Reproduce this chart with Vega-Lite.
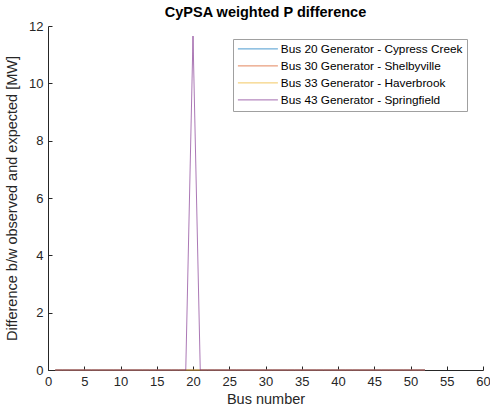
{
  "$schema": "https://vega.github.io/schema/vega-lite/v6.json",
  "autosize": "none",
  "width": 435,
  "height": 344,
  "padding": {"left": 48, "top": 26, "right": 7, "bottom": 44},
  "background": "white",
  "title": {"text": "CyPSA weighted P difference", "font": "Liberation Sans", "fontSize": 14.5, "fontWeight": "bold", "color": "#000000", "offset": 0},
  "data": {
    "values": [
      {"series": "Bus 20 Generator - Cypress Creek", "bus": 1, "diff": 0}, {"series": "Bus 20 Generator - Cypress Creek", "bus": 2, "diff": 0}, {"series": "Bus 20 Generator - Cypress Creek", "bus": 3, "diff": 0}, {"series": "Bus 20 Generator - Cypress Creek", "bus": 4, "diff": 0}, {"series": "Bus 20 Generator - Cypress Creek", "bus": 5, "diff": 0}, {"series": "Bus 20 Generator - Cypress Creek", "bus": 6, "diff": 0}, {"series": "Bus 20 Generator - Cypress Creek", "bus": 7, "diff": 0}, {"series": "Bus 20 Generator - Cypress Creek", "bus": 8, "diff": 0}, {"series": "Bus 20 Generator - Cypress Creek", "bus": 9, "diff": 0}, {"series": "Bus 20 Generator - Cypress Creek", "bus": 10, "diff": 0},
      {"series": "Bus 20 Generator - Cypress Creek", "bus": 11, "diff": 0}, {"series": "Bus 20 Generator - Cypress Creek", "bus": 12, "diff": 0}, {"series": "Bus 20 Generator - Cypress Creek", "bus": 13, "diff": 0}, {"series": "Bus 20 Generator - Cypress Creek", "bus": 14, "diff": 0}, {"series": "Bus 20 Generator - Cypress Creek", "bus": 15, "diff": 0}, {"series": "Bus 20 Generator - Cypress Creek", "bus": 16, "diff": 0}, {"series": "Bus 20 Generator - Cypress Creek", "bus": 17, "diff": 0}, {"series": "Bus 20 Generator - Cypress Creek", "bus": 18, "diff": 0}, {"series": "Bus 20 Generator - Cypress Creek", "bus": 19, "diff": 0}, {"series": "Bus 20 Generator - Cypress Creek", "bus": 20, "diff": 0},
      {"series": "Bus 20 Generator - Cypress Creek", "bus": 21, "diff": 0}, {"series": "Bus 20 Generator - Cypress Creek", "bus": 22, "diff": 0}, {"series": "Bus 20 Generator - Cypress Creek", "bus": 23, "diff": 0}, {"series": "Bus 20 Generator - Cypress Creek", "bus": 24, "diff": 0}, {"series": "Bus 20 Generator - Cypress Creek", "bus": 25, "diff": 0}, {"series": "Bus 20 Generator - Cypress Creek", "bus": 26, "diff": 0}, {"series": "Bus 20 Generator - Cypress Creek", "bus": 27, "diff": 0}, {"series": "Bus 20 Generator - Cypress Creek", "bus": 28, "diff": 0}, {"series": "Bus 20 Generator - Cypress Creek", "bus": 29, "diff": 0}, {"series": "Bus 20 Generator - Cypress Creek", "bus": 30, "diff": 0},
      {"series": "Bus 20 Generator - Cypress Creek", "bus": 31, "diff": 0}, {"series": "Bus 20 Generator - Cypress Creek", "bus": 32, "diff": 0}, {"series": "Bus 20 Generator - Cypress Creek", "bus": 33, "diff": 0}, {"series": "Bus 20 Generator - Cypress Creek", "bus": 34, "diff": 0}, {"series": "Bus 20 Generator - Cypress Creek", "bus": 35, "diff": 0}, {"series": "Bus 20 Generator - Cypress Creek", "bus": 36, "diff": 0}, {"series": "Bus 20 Generator - Cypress Creek", "bus": 37, "diff": 0}, {"series": "Bus 20 Generator - Cypress Creek", "bus": 38, "diff": 0}, {"series": "Bus 20 Generator - Cypress Creek", "bus": 39, "diff": 0}, {"series": "Bus 20 Generator - Cypress Creek", "bus": 40, "diff": 0},
      {"series": "Bus 20 Generator - Cypress Creek", "bus": 41, "diff": 0}, {"series": "Bus 20 Generator - Cypress Creek", "bus": 42, "diff": 0}, {"series": "Bus 20 Generator - Cypress Creek", "bus": 43, "diff": 0}, {"series": "Bus 20 Generator - Cypress Creek", "bus": 44, "diff": 0}, {"series": "Bus 20 Generator - Cypress Creek", "bus": 45, "diff": 0}, {"series": "Bus 20 Generator - Cypress Creek", "bus": 46, "diff": 0}, {"series": "Bus 20 Generator - Cypress Creek", "bus": 47, "diff": 0}, {"series": "Bus 20 Generator - Cypress Creek", "bus": 48, "diff": 0}, {"series": "Bus 20 Generator - Cypress Creek", "bus": 49, "diff": 0}, {"series": "Bus 20 Generator - Cypress Creek", "bus": 50, "diff": 0},
      {"series": "Bus 20 Generator - Cypress Creek", "bus": 51, "diff": 0}, {"series": "Bus 20 Generator - Cypress Creek", "bus": 52, "diff": 0},
      {"series": "Bus 30 Generator - Shelbyville", "bus": 1, "diff": 0}, {"series": "Bus 30 Generator - Shelbyville", "bus": 2, "diff": 0}, {"series": "Bus 30 Generator - Shelbyville", "bus": 3, "diff": 0}, {"series": "Bus 30 Generator - Shelbyville", "bus": 4, "diff": 0}, {"series": "Bus 30 Generator - Shelbyville", "bus": 5, "diff": 0}, {"series": "Bus 30 Generator - Shelbyville", "bus": 6, "diff": 0}, {"series": "Bus 30 Generator - Shelbyville", "bus": 7, "diff": 0}, {"series": "Bus 30 Generator - Shelbyville", "bus": 8, "diff": 0}, {"series": "Bus 30 Generator - Shelbyville", "bus": 9, "diff": 0}, {"series": "Bus 30 Generator - Shelbyville", "bus": 10, "diff": 0},
      {"series": "Bus 30 Generator - Shelbyville", "bus": 11, "diff": 0}, {"series": "Bus 30 Generator - Shelbyville", "bus": 12, "diff": 0}, {"series": "Bus 30 Generator - Shelbyville", "bus": 13, "diff": 0}, {"series": "Bus 30 Generator - Shelbyville", "bus": 14, "diff": 0}, {"series": "Bus 30 Generator - Shelbyville", "bus": 15, "diff": 0}, {"series": "Bus 30 Generator - Shelbyville", "bus": 16, "diff": 0}, {"series": "Bus 30 Generator - Shelbyville", "bus": 17, "diff": 0}, {"series": "Bus 30 Generator - Shelbyville", "bus": 18, "diff": 0}, {"series": "Bus 30 Generator - Shelbyville", "bus": 19, "diff": 0}, {"series": "Bus 30 Generator - Shelbyville", "bus": 20, "diff": 0},
      {"series": "Bus 30 Generator - Shelbyville", "bus": 21, "diff": 0}, {"series": "Bus 30 Generator - Shelbyville", "bus": 22, "diff": 0}, {"series": "Bus 30 Generator - Shelbyville", "bus": 23, "diff": 0}, {"series": "Bus 30 Generator - Shelbyville", "bus": 24, "diff": 0}, {"series": "Bus 30 Generator - Shelbyville", "bus": 25, "diff": 0}, {"series": "Bus 30 Generator - Shelbyville", "bus": 26, "diff": 0}, {"series": "Bus 30 Generator - Shelbyville", "bus": 27, "diff": 0}, {"series": "Bus 30 Generator - Shelbyville", "bus": 28, "diff": 0}, {"series": "Bus 30 Generator - Shelbyville", "bus": 29, "diff": 0}, {"series": "Bus 30 Generator - Shelbyville", "bus": 30, "diff": 0},
      {"series": "Bus 30 Generator - Shelbyville", "bus": 31, "diff": 0}, {"series": "Bus 30 Generator - Shelbyville", "bus": 32, "diff": 0}, {"series": "Bus 30 Generator - Shelbyville", "bus": 33, "diff": 0}, {"series": "Bus 30 Generator - Shelbyville", "bus": 34, "diff": 0}, {"series": "Bus 30 Generator - Shelbyville", "bus": 35, "diff": 0}, {"series": "Bus 30 Generator - Shelbyville", "bus": 36, "diff": 0}, {"series": "Bus 30 Generator - Shelbyville", "bus": 37, "diff": 0}, {"series": "Bus 30 Generator - Shelbyville", "bus": 38, "diff": 0}, {"series": "Bus 30 Generator - Shelbyville", "bus": 39, "diff": 0}, {"series": "Bus 30 Generator - Shelbyville", "bus": 40, "diff": 0},
      {"series": "Bus 30 Generator - Shelbyville", "bus": 41, "diff": 0}, {"series": "Bus 30 Generator - Shelbyville", "bus": 42, "diff": 0}, {"series": "Bus 30 Generator - Shelbyville", "bus": 43, "diff": 0}, {"series": "Bus 30 Generator - Shelbyville", "bus": 44, "diff": 0}, {"series": "Bus 30 Generator - Shelbyville", "bus": 45, "diff": 0}, {"series": "Bus 30 Generator - Shelbyville", "bus": 46, "diff": 0}, {"series": "Bus 30 Generator - Shelbyville", "bus": 47, "diff": 0}, {"series": "Bus 30 Generator - Shelbyville", "bus": 48, "diff": 0}, {"series": "Bus 30 Generator - Shelbyville", "bus": 49, "diff": 0}, {"series": "Bus 30 Generator - Shelbyville", "bus": 50, "diff": 0},
      {"series": "Bus 30 Generator - Shelbyville", "bus": 51, "diff": 0}, {"series": "Bus 30 Generator - Shelbyville", "bus": 52, "diff": 0},
      {"series": "Bus 33 Generator - Haverbrook", "bus": 1, "diff": 0}, {"series": "Bus 33 Generator - Haverbrook", "bus": 2, "diff": 0}, {"series": "Bus 33 Generator - Haverbrook", "bus": 3, "diff": 0}, {"series": "Bus 33 Generator - Haverbrook", "bus": 4, "diff": 0}, {"series": "Bus 33 Generator - Haverbrook", "bus": 5, "diff": 0}, {"series": "Bus 33 Generator - Haverbrook", "bus": 6, "diff": 0}, {"series": "Bus 33 Generator - Haverbrook", "bus": 7, "diff": 0}, {"series": "Bus 33 Generator - Haverbrook", "bus": 8, "diff": 0}, {"series": "Bus 33 Generator - Haverbrook", "bus": 9, "diff": 0}, {"series": "Bus 33 Generator - Haverbrook", "bus": 10, "diff": 0},
      {"series": "Bus 33 Generator - Haverbrook", "bus": 11, "diff": 0}, {"series": "Bus 33 Generator - Haverbrook", "bus": 12, "diff": 0}, {"series": "Bus 33 Generator - Haverbrook", "bus": 13, "diff": 0}, {"series": "Bus 33 Generator - Haverbrook", "bus": 14, "diff": 0}, {"series": "Bus 33 Generator - Haverbrook", "bus": 15, "diff": 0}, {"series": "Bus 33 Generator - Haverbrook", "bus": 16, "diff": 0}, {"series": "Bus 33 Generator - Haverbrook", "bus": 17, "diff": 0}, {"series": "Bus 33 Generator - Haverbrook", "bus": 18, "diff": 0}, {"series": "Bus 33 Generator - Haverbrook", "bus": 19, "diff": 0}, {"series": "Bus 33 Generator - Haverbrook", "bus": 20, "diff": 0},
      {"series": "Bus 33 Generator - Haverbrook", "bus": 21, "diff": 0}, {"series": "Bus 33 Generator - Haverbrook", "bus": 22, "diff": 0}, {"series": "Bus 33 Generator - Haverbrook", "bus": 23, "diff": 0}, {"series": "Bus 33 Generator - Haverbrook", "bus": 24, "diff": 0}, {"series": "Bus 33 Generator - Haverbrook", "bus": 25, "diff": 0}, {"series": "Bus 33 Generator - Haverbrook", "bus": 26, "diff": 0}, {"series": "Bus 33 Generator - Haverbrook", "bus": 27, "diff": 0}, {"series": "Bus 33 Generator - Haverbrook", "bus": 28, "diff": 0}, {"series": "Bus 33 Generator - Haverbrook", "bus": 29, "diff": 0}, {"series": "Bus 33 Generator - Haverbrook", "bus": 30, "diff": 0},
      {"series": "Bus 33 Generator - Haverbrook", "bus": 31, "diff": 0}, {"series": "Bus 33 Generator - Haverbrook", "bus": 32, "diff": 0}, {"series": "Bus 33 Generator - Haverbrook", "bus": 33, "diff": 0}, {"series": "Bus 33 Generator - Haverbrook", "bus": 34, "diff": 0}, {"series": "Bus 33 Generator - Haverbrook", "bus": 35, "diff": 0}, {"series": "Bus 33 Generator - Haverbrook", "bus": 36, "diff": 0}, {"series": "Bus 33 Generator - Haverbrook", "bus": 37, "diff": 0}, {"series": "Bus 33 Generator - Haverbrook", "bus": 38, "diff": 0}, {"series": "Bus 33 Generator - Haverbrook", "bus": 39, "diff": 0}, {"series": "Bus 33 Generator - Haverbrook", "bus": 40, "diff": 0},
      {"series": "Bus 33 Generator - Haverbrook", "bus": 41, "diff": 0}, {"series": "Bus 33 Generator - Haverbrook", "bus": 42, "diff": 0}, {"series": "Bus 33 Generator - Haverbrook", "bus": 43, "diff": 0}, {"series": "Bus 33 Generator - Haverbrook", "bus": 44, "diff": 0}, {"series": "Bus 33 Generator - Haverbrook", "bus": 45, "diff": 0}, {"series": "Bus 33 Generator - Haverbrook", "bus": 46, "diff": 0}, {"series": "Bus 33 Generator - Haverbrook", "bus": 47, "diff": 0}, {"series": "Bus 33 Generator - Haverbrook", "bus": 48, "diff": 0}, {"series": "Bus 33 Generator - Haverbrook", "bus": 49, "diff": 0}, {"series": "Bus 33 Generator - Haverbrook", "bus": 50, "diff": 0},
      {"series": "Bus 33 Generator - Haverbrook", "bus": 51, "diff": 0}, {"series": "Bus 33 Generator - Haverbrook", "bus": 52, "diff": 0},
      {"series": "Bus 43 Generator - Springfield", "bus": 1, "diff": 0}, {"series": "Bus 43 Generator - Springfield", "bus": 2, "diff": 0}, {"series": "Bus 43 Generator - Springfield", "bus": 3, "diff": 0}, {"series": "Bus 43 Generator - Springfield", "bus": 4, "diff": 0}, {"series": "Bus 43 Generator - Springfield", "bus": 5, "diff": 0}, {"series": "Bus 43 Generator - Springfield", "bus": 6, "diff": 0}, {"series": "Bus 43 Generator - Springfield", "bus": 7, "diff": 0}, {"series": "Bus 43 Generator - Springfield", "bus": 8, "diff": 0}, {"series": "Bus 43 Generator - Springfield", "bus": 9, "diff": 0}, {"series": "Bus 43 Generator - Springfield", "bus": 10, "diff": 0},
      {"series": "Bus 43 Generator - Springfield", "bus": 11, "diff": 0}, {"series": "Bus 43 Generator - Springfield", "bus": 12, "diff": 0}, {"series": "Bus 43 Generator - Springfield", "bus": 13, "diff": 0}, {"series": "Bus 43 Generator - Springfield", "bus": 14, "diff": 0}, {"series": "Bus 43 Generator - Springfield", "bus": 15, "diff": 0}, {"series": "Bus 43 Generator - Springfield", "bus": 16, "diff": 0}, {"series": "Bus 43 Generator - Springfield", "bus": 17, "diff": 0}, {"series": "Bus 43 Generator - Springfield", "bus": 18, "diff": 0}, {"series": "Bus 43 Generator - Springfield", "bus": 19, "diff": 0}, {"series": "Bus 43 Generator - Springfield", "bus": 20, "diff": 11.65},
      {"series": "Bus 43 Generator - Springfield", "bus": 21, "diff": 0}, {"series": "Bus 43 Generator - Springfield", "bus": 22, "diff": 0}, {"series": "Bus 43 Generator - Springfield", "bus": 23, "diff": 0}, {"series": "Bus 43 Generator - Springfield", "bus": 24, "diff": 0}, {"series": "Bus 43 Generator - Springfield", "bus": 25, "diff": 0}, {"series": "Bus 43 Generator - Springfield", "bus": 26, "diff": 0}, {"series": "Bus 43 Generator - Springfield", "bus": 27, "diff": 0}, {"series": "Bus 43 Generator - Springfield", "bus": 28, "diff": 0}, {"series": "Bus 43 Generator - Springfield", "bus": 29, "diff": 0}, {"series": "Bus 43 Generator - Springfield", "bus": 30, "diff": 0},
      {"series": "Bus 43 Generator - Springfield", "bus": 31, "diff": 0}, {"series": "Bus 43 Generator - Springfield", "bus": 32, "diff": 0}, {"series": "Bus 43 Generator - Springfield", "bus": 33, "diff": 0}, {"series": "Bus 43 Generator - Springfield", "bus": 34, "diff": 0}, {"series": "Bus 43 Generator - Springfield", "bus": 35, "diff": 0}, {"series": "Bus 43 Generator - Springfield", "bus": 36, "diff": 0}, {"series": "Bus 43 Generator - Springfield", "bus": 37, "diff": 0}, {"series": "Bus 43 Generator - Springfield", "bus": 38, "diff": 0}, {"series": "Bus 43 Generator - Springfield", "bus": 39, "diff": 0}, {"series": "Bus 43 Generator - Springfield", "bus": 40, "diff": 0},
      {"series": "Bus 43 Generator - Springfield", "bus": 41, "diff": 0}, {"series": "Bus 43 Generator - Springfield", "bus": 42, "diff": 0}, {"series": "Bus 43 Generator - Springfield", "bus": 43, "diff": 0}, {"series": "Bus 43 Generator - Springfield", "bus": 44, "diff": 0}, {"series": "Bus 43 Generator - Springfield", "bus": 45, "diff": 0}, {"series": "Bus 43 Generator - Springfield", "bus": 46, "diff": 0}, {"series": "Bus 43 Generator - Springfield", "bus": 47, "diff": 0}, {"series": "Bus 43 Generator - Springfield", "bus": 48, "diff": 0}, {"series": "Bus 43 Generator - Springfield", "bus": 49, "diff": 0}, {"series": "Bus 43 Generator - Springfield", "bus": 50, "diff": 0},
      {"series": "Bus 43 Generator - Springfield", "bus": 51, "diff": 0}, {"series": "Bus 43 Generator - Springfield", "bus": 52, "diff": 0}
    ]
  },
  "mark": {"type": "line", "strokeWidth": 1, "opacity": 0.65, "clip": false},
  "encoding": {
    "x": {
      "field": "bus", "type": "quantitative",
      "scale": {"domain": [0, 60], "nice": false, "zero": false},
      "axis": {"title": "Bus number", "values": [0, 5, 10, 15, 20, 25, 30, 35, 40, 45, 50, 55, 60], "grid": false, "tickSize": -4, "labelPadding": 9, "titlePadding": 4, "labelFlush": false}
    },
    "y": {
      "field": "diff", "type": "quantitative",
      "scale": {"domain": [0, 12], "nice": false},
      "axis": {"title": "Difference b/w observed and expected [MW]", "values": [0, 2, 4, 6, 8, 10, 12], "grid": false, "tickSize": -4, "labelPadding": 9, "titlePadding": 9, "labelFlush": false}
    },
    "color": {
      "field": "series", "type": "nominal",
      "scale": {
        "domain": ["Bus 20 Generator - Cypress Creek", "Bus 30 Generator - Shelbyville", "Bus 33 Generator - Haverbrook", "Bus 43 Generator - Springfield"],
        "range": ["#0072BD", "#D95319", "#EDB120", "#7E2F8E"]
      },
      "legend": {
        "title": null, "orient": "none", "legendX": 185, "legendY": 13,
        "symbolType": "M-1,0H7", "symbolSize": 100, "symbolStrokeWidth": 1, "symbolOpacity": 0.7,
        "labelFontSize": 11.8, "labelFont": "Liberation Sans", "labelColor": "#000000", "labelLimit": 300,
        "rowPadding": 4, "padding": 4, "strokeColor": "#a0a0a0", "fillColor": "white", "labelOffset": 32
      }
    },
    "order": {"field": "series"}
  },
  "config": {
    "view": {"stroke": null},
    "axis": {
      "domainColor": "#262626", "tickColor": "#262626", "labelColor": "#262626", "titleColor": "#262626",
      "labelFont": "Liberation Sans", "titleFont": "Liberation Sans", "labelFontSize": 13, "titleFontSize": 14.5, "titleFontWeight": "normal"
    }
  }
}
